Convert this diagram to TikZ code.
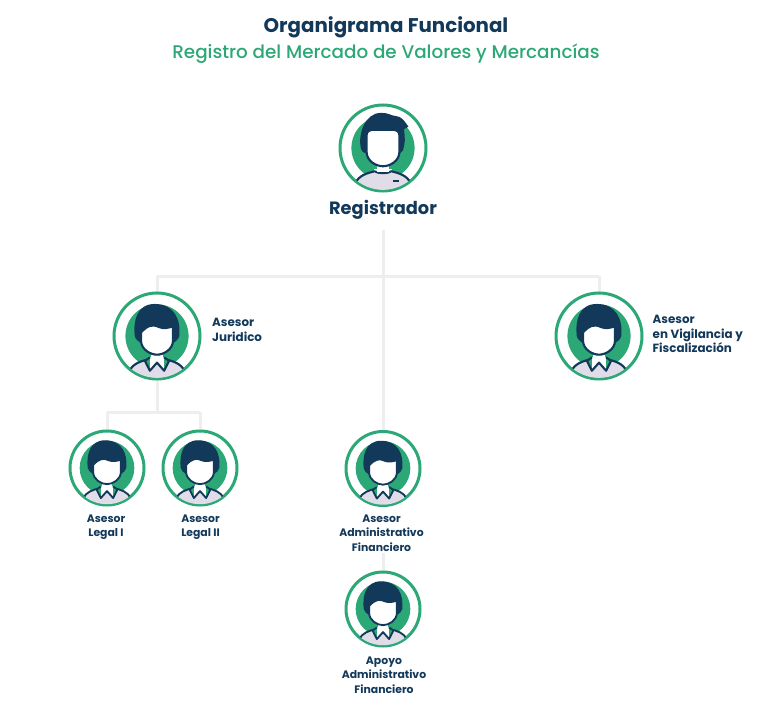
\documentclass[tikz,border=0pt]{standalone}
\usepackage{fontspec}
\setmainfont{Poppins}[BoldFont={Poppins Bold}]
\newfontfamily\medfont{Poppins Medium}
\definecolor{navy}{HTML}{12385A}
\definecolor{leaf}{HTML}{2BA876}
\definecolor{shirt}{HTML}{E0DDE9}
\definecolor{wire}{HTML}{EEEEEE}
\tikzset{
  ring/.style={circle,draw=leaf,fill=white,line width=3pt,inner sep=0pt},
  wireline/.style={draw=wire,line width=3pt},
  lab/.style={text=navy,font=\bfseries\fontsize{10.85}{14.3}\selectfont,align=center,inner sep=0pt},
  labl/.style={lab,font=\bfseries\fontsize{11.9}{14.8}\selectfont,align=left,anchor=west},
}
% #1 name, #2 x, #3 y, #4 radius, #5 shirt details, #6 head
\newcommand\avatar[6]{%
  \pgfmathsetmacro\lw{0.048*#4}%
  \node[ring,minimum size={2*#4*1pt-3pt}] (#1) at (#2,#3) {};
  \begin{scope}[shift={(#2,#3)},scale=#4]
    \fill[leaf] (0,0) circle (0.71);
    \begin{scope}
      \clip (0,0) circle (0.94);
      \path[fill=shirt,draw=navy,line width=\lw pt] (-0.62,1.1) -- (-0.62,0.8) .. controls (-0.56,0.62) and (-0.35,0.56) .. (-0.17,0.52) -- (0.17,0.52) .. controls (0.35,0.56) and (0.56,0.62) .. (0.62,0.8) -- (0.62,1.1) -- cycle;
      #5
    \end{scope}
    \fill[white] (-0.13,0.3) rectangle (0.13,0.55);
    #6
  \end{scope}
}
\newcommand\collar{%
  \fill[white] (-0.16,0.48) -- (-0.16,0.78) -- (0,0.6) -- (0.16,0.78) -- (0.16,0.48) -- cycle;
  \fill[leaf] (-0.16,0.48) -- (-0.27,0.56) -- (-0.16,0.78) -- cycle;
  \fill[leaf] (0.16,0.48) -- (0.27,0.56) -- (0.16,0.78) -- cycle;
  \draw[navy,line width=\lw pt,line join=round] (-0.16,0.48) -- (-0.27,0.56) -- (-0.16,0.78) -- (0,0.6) -- (0.16,0.78) -- (0.27,0.56) -- (0.16,0.48);
}
\newcommand\tee{%
  \fill[white] (-0.2,0.48) rectangle (0.2,0.56);
  \draw[navy,line width=\lw pt] (-0.2,0.52) .. controls (-0.1,0.58) and (0.1,0.58) .. (0.2,0.52);
  \fill[navy] (0.23,0.72) rectangle (0.36,0.77);
}
\newcommand\headA{%
  \fill[navy] (-0.36,0.16) .. controls (-0.43,0.12) and (-0.49,0.06) .. (-0.5,0) .. controls (-0.54,-0.32) and (-0.46,-0.72) .. (-0.05,-0.72) .. controls (0.38,-0.72) and (0.54,-0.38) .. (0.5,0) .. controls (0.49,0.06) and (0.43,0.12) .. (0.36,0.16) -- cycle;
  \path[fill=white,draw=navy,line width=\lw pt] (-0.36,-0.08) .. controls (-0.2,-0.25) and (-0.1,-0.27) .. (0.05,-0.2) .. controls (0.15,-0.16) and (0.25,-0.18) .. (0.36,-0.22) -- (0.36,0.1) .. controls (0.36,0.3) and (0.15,0.42) .. (0,0.42) .. controls (-0.15,0.42) and (-0.36,0.3) .. (-0.36,0.1) -- cycle;
}
\newcommand\headB{%
  \fill[navy] (-0.38,0.12) .. controls (-0.46,0.1) and (-0.5,0.05) .. (-0.5,0) .. controls (-0.56,-0.3) and (-0.42,-0.78) .. (-0.05,-0.79) .. controls (0.1,-0.8) and (0.2,-0.72) .. (0.28,-0.72) .. controls (0.42,-0.72) and (0.5,-0.58) .. (0.57,-0.48) -- (0.47,-0.42) .. controls (0.5,-0.25) and (0.5,-0.1) .. (0.45,0.05) -- (0.38,0.12) -- cycle;
  \path[fill=white,draw=navy,line width=\lw pt] (-0.37,-0.28) .. controls (-0.37,-0.38) and (-0.3,-0.41) .. (-0.2,-0.41) -- (0.2,-0.41) .. controls (0.3,-0.41) and (0.37,-0.38) .. (0.37,-0.28) -- (0.37,0.08) .. controls (0.37,0.3) and (0.15,0.41) .. (0,0.41) .. controls (-0.15,0.41) and (-0.37,0.3) .. (-0.37,0.08) -- cycle;
}
\begin{document}
\begin{tikzpicture}[x=1pt,y=-1pt]
\useasboundingbox (0,0) rectangle (768,722);
\coordinate (trunktop) at (383,230);
\coordinate (barmid) at (383,276);
\coordinate (barl) at (157,276);
\coordinate (barr) at (599,276);
\coordinate (subbar) at (157,412);
\coordinate (subl) at (107,412);
\coordinate (subr) at (200,412);
% connectors first, avatars cover their ends
\path[wireline] (trunktop) -- (383,445);
\path[wireline] (barl) -- (barr);
\path[wireline] (barl) -- (157,300);
\path[wireline] (barr) -- (599,300);
\path[wireline] (157,370) -- (subbar);
\path[wireline] (subl) -- (subr);
\path[wireline] (subl) -- (107,440);
\path[wireline] (subr) -- (200,440);
\path[wireline] (383,553) -- (383,580);

\node[text=navy,font=\bfseries\fontsize{19.8}{22}\selectfont,inner sep=0pt] (title) at (386,27) {Organigrama Funcional};
\node[text=leaf,font=\medfont\fontsize{18.35}{20}\selectfont,inner sep=0pt] (subtitle) at (386,53.5) {Registro del Mercado de Valores y Mercancías};

\avatar{reg}{383}{148}{44.5}{\tee}{\headB}
\avatar{jur}{157}{336}{44.5}{\collar}{\headA}
\avatar{vig}{599}{336}{44.5}{\collar}{\headA}
\avatar{leg1}{107}{468}{38.5}{\collar}{\headA}
\avatar{leg2}{200}{468}{38.5}{\collar}{\headA}
\avatar{adm}{383}{468.5}{38.5}{\collar}{\headA}
\avatar{apo}{383}{609}{38.5}{\collar}{\headA}

\node[text=navy,font=\bfseries\fontsize{17.8}{20}\selectfont,inner sep=0pt] (regl) at (383,209.5) {Registrador};
\node[labl] (jurl) at (212,329.5) {Asesor\\Juridico};
\node[labl] (vigl) at (652.5,334) {Asesor\\en Vigilancia y\\Fiscalización};
\node[lab] (leg1l) at (106,527.5) {Asesor\\Legal I};
\node[lab] (leg2l) at (200.5,527.5) {Asesor\\Legal II};
\node[lab] (adml) at (381.5,533) {Asesor\\Administrativo\\Financiero};
\node[lab] (apol) at (384,675) {Apoyo\\Administrativo\\Financiero};
\end{tikzpicture}
\end{document}
